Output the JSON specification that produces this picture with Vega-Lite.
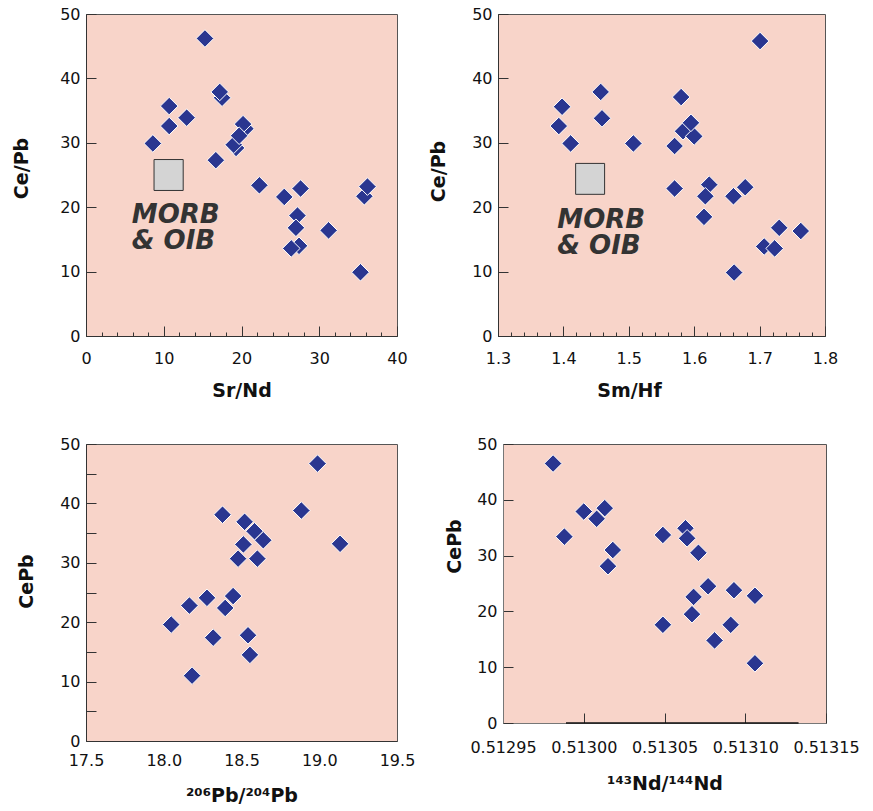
{
  "$schema": "https://vega.github.io/schema/vega-lite/v6.json",
  "background": "white",
  "padding": {"left": 12, "top": 5, "right": 0, "bottom": 0},
  "bounds": "flush",
  "spacing": 430,
  "config": {
    "view": {"fill": "#f8d4c9", "stroke": "#555555", "strokeWidth": 1},
    "font": "DejaVu Sans",
    "axis": {
      "labelFont": "DejaVu Sans", "labelFontSize": 16, "labelColor": "#111111",
      "titleFont": "DejaVu Sans", "titleFontWeight": "bold", "titleFontSize": 19, "titleColor": "#111111",
      "grid": false, "domainColor": "#333333", "tickColor": "#333333", "tickWidth": 1,
      "labelFlush": false, "labelOverlap": false
    }
  },
  "datasets": {
    "p1": [
      {"SrNd": 15.3, "CePb": 46.2}, {"SrNd": 17.5, "CePb": 37.0}, {"SrNd": 17.2, "CePb": 37.9},
      {"SrNd": 10.7, "CePb": 35.7}, {"SrNd": 12.95, "CePb": 33.9}, {"SrNd": 10.7, "CePb": 32.6},
      {"SrNd": 8.6, "CePb": 29.9}, {"SrNd": 20.5, "CePb": 32.2}, {"SrNd": 20.2, "CePb": 32.9},
      {"SrNd": 19.3, "CePb": 29.2}, {"SrNd": 19.0, "CePb": 29.7}, {"SrNd": 19.7, "CePb": 31.1},
      {"SrNd": 16.7, "CePb": 27.3}, {"SrNd": 22.3, "CePb": 23.4}, {"SrNd": 25.5, "CePb": 21.6},
      {"SrNd": 27.6, "CePb": 22.9}, {"SrNd": 35.8, "CePb": 21.7}, {"SrNd": 36.2, "CePb": 23.2},
      {"SrNd": 27.2, "CePb": 18.7}, {"SrNd": 27.0, "CePb": 16.8}, {"SrNd": 27.4, "CePb": 14.0},
      {"SrNd": 26.4, "CePb": 13.6}, {"SrNd": 31.2, "CePb": 16.4}, {"SrNd": 35.3, "CePb": 9.9}
    ],
    "p2": [
      {"SmHf": 1.7007, "CePb": 45.8}, {"SmHf": 1.580, "CePb": 37.1}, {"SmHf": 1.457, "CePb": 37.9},
      {"SmHf": 1.398, "CePb": 35.6}, {"SmHf": 1.459, "CePb": 33.8}, {"SmHf": 1.393, "CePb": 32.6},
      {"SmHf": 1.411, "CePb": 29.9}, {"SmHf": 1.507, "CePb": 29.9}, {"SmHf": 1.570, "CePb": 29.5},
      {"SmHf": 1.583, "CePb": 31.8}, {"SmHf": 1.600, "CePb": 31.0}, {"SmHf": 1.595, "CePb": 33.1},
      {"SmHf": 1.570, "CePb": 22.9}, {"SmHf": 1.623, "CePb": 23.5}, {"SmHf": 1.617, "CePb": 21.7},
      {"SmHf": 1.615, "CePb": 18.5}, {"SmHf": 1.660, "CePb": 21.7}, {"SmHf": 1.678, "CePb": 23.1},
      {"SmHf": 1.730, "CePb": 16.8}, {"SmHf": 1.763, "CePb": 16.3}, {"SmHf": 1.707, "CePb": 13.9},
      {"SmHf": 1.723, "CePb": 13.6}, {"SmHf": 1.661, "CePb": 9.85}
    ],
    "p3": [
      {"Pb206_204": 18.989, "CePb": 46.7}, {"Pb206_204": 18.885, "CePb": 38.8}, {"Pb206_204": 19.134, "CePb": 33.2},
      {"Pb206_204": 18.378, "CePb": 38.1}, {"Pb206_204": 18.520, "CePb": 36.9}, {"Pb206_204": 18.584, "CePb": 35.3},
      {"Pb206_204": 18.640, "CePb": 33.8}, {"Pb206_204": 18.512, "CePb": 33.1}, {"Pb206_204": 18.478, "CePb": 30.7},
      {"Pb206_204": 18.602, "CePb": 30.7}, {"Pb206_204": 18.446, "CePb": 24.4}, {"Pb206_204": 18.278, "CePb": 24.1},
      {"Pb206_204": 18.165, "CePb": 22.8}, {"Pb206_204": 18.395, "CePb": 22.4}, {"Pb206_204": 18.048, "CePb": 19.6},
      {"Pb206_204": 18.318, "CePb": 17.4}, {"Pb206_204": 18.542, "CePb": 17.8}, {"Pb206_204": 18.554, "CePb": 14.5},
      {"Pb206_204": 18.182, "CePb": 11.0}
    ],
    "p4": [
      {"Nd143_144": 0.512981, "CePb": 46.5}, {"Nd143_144": 0.512988, "CePb": 33.4}, {"Nd143_144": 0.513000, "CePb": 37.9},
      {"Nd143_144": 0.513013, "CePb": 38.5}, {"Nd143_144": 0.513008, "CePb": 36.6}, {"Nd143_144": 0.513018, "CePb": 31.0},
      {"Nd143_144": 0.513015, "CePb": 28.1}, {"Nd143_144": 0.513049, "CePb": 33.7}, {"Nd143_144": 0.513063, "CePb": 34.9},
      {"Nd143_144": 0.513064, "CePb": 33.1}, {"Nd143_144": 0.513071, "CePb": 30.5}, {"Nd143_144": 0.513077, "CePb": 24.5},
      {"Nd143_144": 0.513068, "CePb": 22.6}, {"Nd143_144": 0.513067, "CePb": 19.5}, {"Nd143_144": 0.513093, "CePb": 23.8},
      {"Nd143_144": 0.513106, "CePb": 22.8}, {"Nd143_144": 0.513049, "CePb": 17.6}, {"Nd143_144": 0.513091, "CePb": 17.6},
      {"Nd143_144": 0.513081, "CePb": 14.8}, {"Nd143_144": 0.513106, "CePb": 10.7}
    ],
    "box1": [{"x1": 8.75, "x2": 12.5, "y1": 22.6, "y2": 27.4}],
    "box2": [{"x1": 1.4187, "x2": 1.463, "y1": 22.0, "y2": 26.8}],
    "lab1": [{"x": 5.9, "y": 17.5, "text": "MORB"}, {"x": 5.9, "y": 13.5, "text": "& OIB"}],
    "lab2": [{"x": 1.3907, "y": 16.7, "text": "MORB"}, {"x": 1.3907, "y": 12.7, "text": "& OIB"}],
    "axisline4": [{"x1": 0.512989, "x2": 0.513133, "y": 0}]
  },
  "vconcat": [
    {
      "bounds": "flush",
      "spacing": 101,
      "hconcat": [
        {
          "width": 311, "height": 322,
          "resolve": {"axis": {"x": "independent"}},
          "layer": [
            {
              "data": {"name": "box1"},
              "mark": {"type": "rect", "fill": "#d4d4d4", "stroke": "#333333", "strokeWidth": 1},
              "encoding": {
                "x": {"field": "x1", "type": "quantitative", "scale": {"domain": [0, 40], "nice": false}, "title": "Sr/Nd",
                  "axis": {"orient": "bottom", "values": [0, 10, 20, 30, 40], "labelOverlap": false,
                    "tickSize": -10, "labelPadding": 24, "titlePadding": 15}},
                "x2": {"field": "x2"},
                "y": {"field": "y1", "type": "quantitative", "scale": {"domain": [0, 50], "nice": false}, "title": "Ce/Pb",
                  "axis": {"values": [0,5,10,15,20,25,30,35,40,45,50], "labelOverlap": false,
                    "labelExpr": "datum.value % 10 === 0 ? datum.label : ''",
                    "tickSize": -10, "labelPadding": 16, "titlePadding": 28, "titleY": 154}},
                "y2": {"field": "y2"}
              }
            },
            {
              "data": {"name": "lab1"},
              "mark": {"type": "text", "align": "left", "baseline": "alphabetic", "font": "DejaVu Sans", "fontSize": 26, "fontWeight": "bold", "fontStyle": "italic", "color": "#333333"},
              "encoding": {
                "x": {"field": "x", "type": "quantitative", "axis": null},
                "y": {"field": "y", "type": "quantitative"},
                "text": {"field": "text"}
              }
            },
            {
              "data": {"name": "p1"},
              "mark": {"type": "point", "shape": "diamond", "filled": true, "size": 310, "color": "#2a3690", "stroke": "white", "strokeWidth": 1, "opacity": 1},
              "encoding": {
                "x": {"field": "SrNd", "type": "quantitative",
                  "axis": {"orient": "bottom", "values": [2,4,6,8,12,14,16,18,22,24,26,28,32,34,36,38],
                    "labels": false, "domain": false, "title": null, "tickSize": -4}},
                "y": {"field": "CePb", "type": "quantitative"}
              }
            }
          ]
        },
        {
          "width": 327, "height": 322,
          "resolve": {"axis": {"x": "independent"}},
          "layer": [
            {
              "data": {"name": "box2"},
              "mark": {"type": "rect", "fill": "#d4d4d4", "stroke": "#333333", "strokeWidth": 1},
              "encoding": {
                "x": {"field": "x1", "type": "quantitative", "scale": {"domain": [1.3, 1.8], "nice": false, "zero": false}, "title": "Sm/Hf",
                  "axis": {"orient": "bottom", "values": [1.3, 1.4, 1.5, 1.6, 1.7, 1.8], "format": ".1f", "labelOverlap": false,
                    "tickSize": -10, "labelPadding": 24, "titlePadding": 15, "titleX": 131}},
                "x2": {"field": "x2"},
                "y": {"field": "y1", "type": "quantitative", "scale": {"domain": [0, 50], "nice": false}, "title": "Ce/Pb",
                  "axis": {"values": [0,5,10,15,20,25,30,35,40,45,50], "labelOverlap": false,
                    "labelExpr": "datum.value % 10 === 0 ? datum.label : ''",
                    "tickSize": -10, "labelPadding": 16, "titlePadding": 23, "titleY": 157}},
                "y2": {"field": "y2"}
              }
            },
            {
              "data": {"name": "lab2"},
              "mark": {"type": "text", "align": "left", "baseline": "alphabetic", "font": "DejaVu Sans", "fontSize": 26, "fontWeight": "bold", "fontStyle": "italic", "color": "#333333"},
              "encoding": {
                "x": {"field": "x", "type": "quantitative", "axis": null},
                "y": {"field": "y", "type": "quantitative"},
                "text": {"field": "text"}
              }
            },
            {
              "data": {"name": "p2"},
              "mark": {"type": "point", "shape": "diamond", "filled": true, "size": 310, "color": "#2a3690", "stroke": "white", "strokeWidth": 1, "opacity": 1},
              "encoding": {
                "x": {"field": "SmHf", "type": "quantitative",
                  "axis": {"orient": "bottom", "values": [1.32,1.34,1.36,1.38,1.42,1.44,1.46,1.48,1.52,1.54,1.56,1.58,1.62,1.64,1.66,1.68,1.72,1.74,1.76,1.78],
                    "labels": false, "domain": false, "title": null, "tickSize": -4}},
                "y": {"field": "CePb", "type": "quantitative"}
              }
            }
          ]
        }
      ]
    },
    {
      "bounds": "flush",
      "spacing": 106,
      "hconcat": [
        {
          "width": 311, "height": 297,
          "data": {"name": "p3"},
          "mark": {"type": "point", "shape": "diamond", "filled": true, "size": 310, "color": "#2a3690", "stroke": "white", "strokeWidth": 1, "opacity": 1},
          "encoding": {
            "x": {"field": "Pb206_204", "type": "quantitative", "scale": {"domain": [17.5, 19.5], "nice": false, "zero": false}, "title": "²⁰⁶Pb/²⁰⁴Pb",
              "axis": {"values": [17.5, 18.0, 18.5, 19.0, 19.5], "format": ".1f", "ticks": false, "labelPadding": 11, "titlePadding": 18}},
            "y": {"field": "CePb", "type": "quantitative", "scale": {"domain": [0, 50], "nice": false}, "title": "CePb",
              "axis": {"values": [0,5,10,15,20,25,30,35,40,45,50], "labelOverlap": false,
                "labelExpr": "datum.value % 10 === 0 ? datum.label : ''",
                "tickSize": -10, "labelPadding": 16, "titlePadding": 23, "titleY": 137}}
          }
        },
        {
          "width": 323, "height": 279,
          "layer": [
            {
              "data": {"name": "axisline4"},
              "mark": {"type": "rule", "color": "#111111", "strokeWidth": 1.5},
              "encoding": {
                "x": {"field": "x1", "type": "quantitative", "scale": {"domain": [0.51295, 0.51315], "nice": false, "zero": false}, "title": "¹⁴³Nd/¹⁴⁴Nd",
                  "axis": {"values": [0.51295, 0.513, 0.51305, 0.5131, 0.51315], "format": ".5f", "domainColor": "#777777",
                    "tickSize": -10, "labelPadding": 26, "titlePadding": 19}},
                "x2": {"field": "x2"},
                "y": {"field": "y", "type": "quantitative", "scale": {"domain": [0, 50], "nice": false}, "title": "CePb",
                  "axis": {"values": [0,5,10,15,20,25,30,35,40,45,50], "labelOverlap": false,
                    "labelExpr": "datum.value % 10 === 0 ? datum.label : ''", "domainColor": "#777777",
                    "tickSize": -10, "labelPadding": 16, "titlePadding": 12, "titleY": 102}}
              }
            },
            {
              "data": {"name": "p4"},
              "mark": {"type": "point", "shape": "diamond", "filled": true, "size": 310, "color": "#2a3690", "stroke": "white", "strokeWidth": 1, "opacity": 1},
              "encoding": {
                "x": {"field": "Nd143_144", "type": "quantitative"},
                "y": {"field": "CePb", "type": "quantitative"}
              }
            }
          ]
        }
      ]
    }
  ]
}
